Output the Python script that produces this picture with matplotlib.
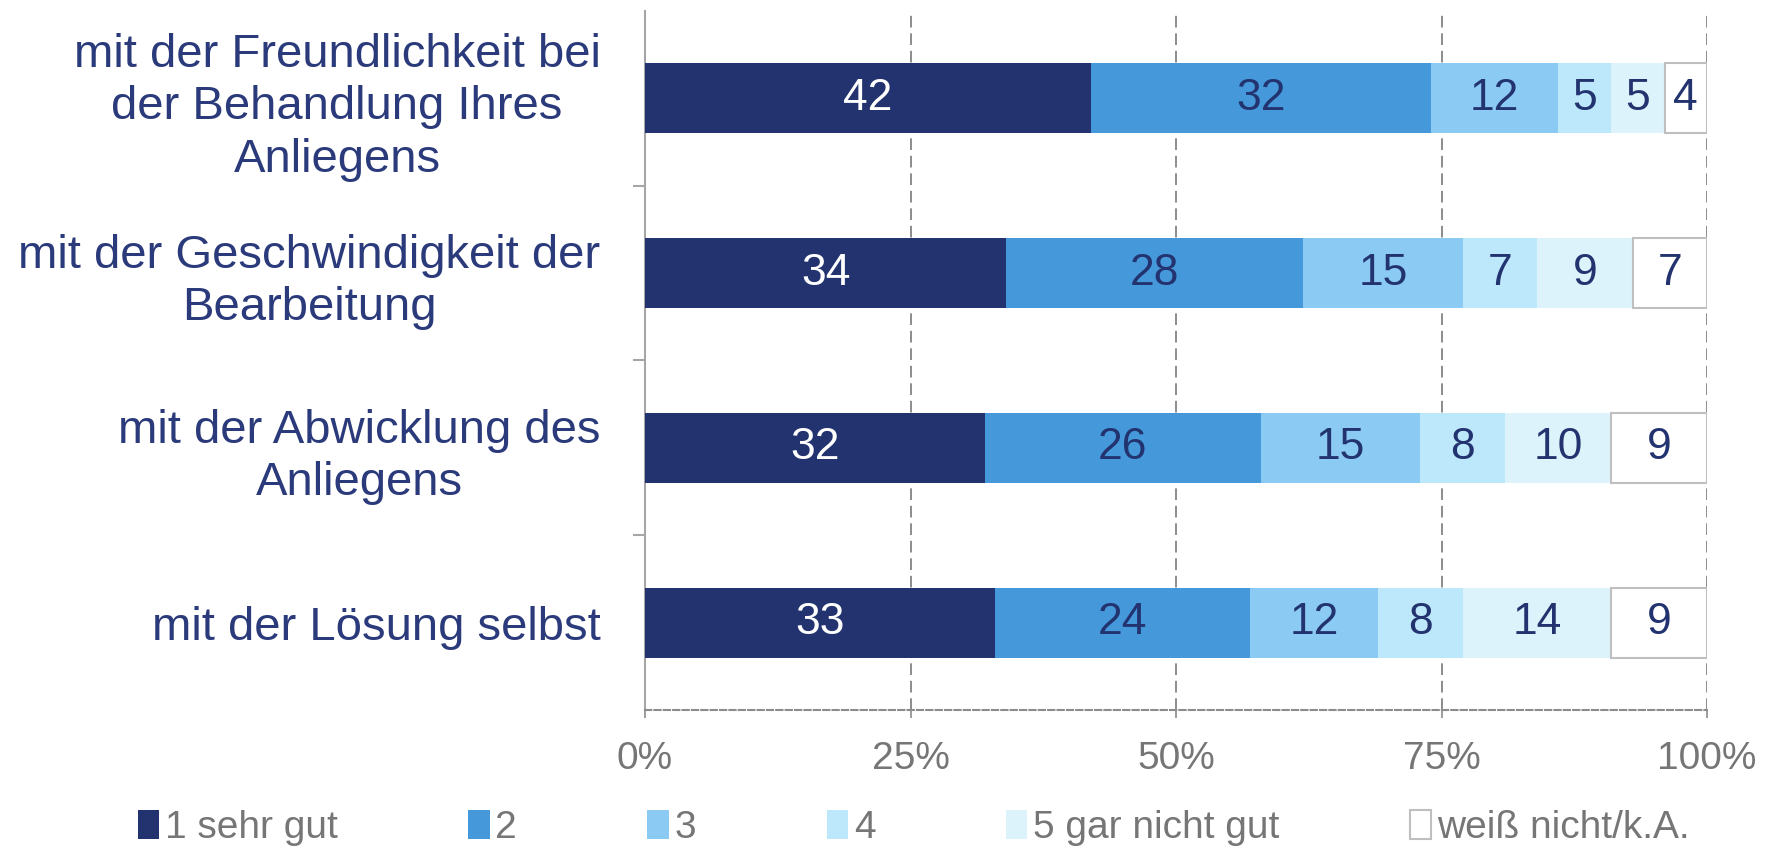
import numpy as np
import matplotlib
matplotlib.use("Agg")
import matplotlib.pyplot as plt
from matplotlib.ticker import FixedLocator

plt.rcParams['font.family'] = ['Liberation Sans', 'DejaVu Sans']

# categories top -> bottom
categories = [
    "mit der Freundlichkeit bei\nder Behandlung Ihres\nAnliegens",
    "mit der Geschwindigkeit der\nBearbeitung",
    "mit der Abwicklung des\nAnliegens",
    "mit der Lösung selbst",
]
series_names = ["1 sehr gut", "2", "3", "4", "5 gar nicht gut", "weiß nicht/k.A."]
s1 = [42, 34, 32, 33]
s2 = [32, 28, 26, 24]
s3 = [12, 15, 15, 12]
s4 = [5, 7, 8, 8]
s5 = [5, 9, 10, 14]
s6 = [4, 7, 9, 9]
x_ticks = [0, 25, 50, 75, 100]
x_ticklabels = ["0%", "25%", "50%", "75%", "100%"]

colors = ["#22336F", "#4599DA", "#8BCBF3", "#BDE7FB", "#DDF3FC", "#FFFFFF"]
edges = ["none", "none", "none", "none", "none", "#BFBFBF"]
label_colors = ["white", "#22336F", "#22336F", "#22336F", "#22336F", "#22336F"]
navy = "#2A3A7A"
grey = "#767676"

fig = plt.figure(figsize=(17.75, 8.46), dpi=100)
ax = fig.add_axes([645 / 1775, 1 - 710 / 846, (1707 - 645) / 1775, (710 - 11) / 846])

y = np.arange(len(categories))
left = np.zeros(len(categories))
for vals, name, c, ec, lc in zip([s1, s2, s3, s4, s5, s6], series_names, colors, edges, label_colors):
    vals = np.array(vals, dtype=float)
    ax.barh(y, vals, left=left, height=0.4, color=c, edgecolor=ec,
            linewidth=1.5, label=name, zorder=3)
    for yi, l, v in zip(y, left, vals):
        ax.text(l + v / 2, yi, f"{int(v)}", ha="center", va="center",
                fontsize=32, color=lc, zorder=4)
    left += vals

ax.set_xlim(0, 100)
ax.set_ylim(len(categories) - 0.5, -0.5)
ax.set_xticks(x_ticks)
ax.set_xticklabels(x_ticklabels, fontsize=28, color=grey)
ax.set_yticks(y)
ax.set_yticklabels(categories, fontsize=34, color=navy, multialignment="center",
                   linespacing=1.24)
ax.yaxis.set_minor_locator(FixedLocator([0.5, 1.5, 2.5]))
ax.tick_params(axis="y", which="major", length=0, pad=32)
ax.tick_params(axis="y", which="minor", length=9, width=1.5, color="#A6A6A6", direction="out")
ax.tick_params(axis="x", length=6, width=1.2, color="#8C8C8C", pad=16)

ax.grid(axis="x", color="#8C8C8C", linestyle=(0, (6, 3)), linewidth=1.4, zorder=0)
for s in ["top", "right"]:
    ax.spines[s].set_visible(False)
ax.spines["left"].set_color("#A6A6A6")
ax.spines["left"].set_linewidth(1.5)
ax.spines["bottom"].set_color("#8C8C8C")
ax.spines["bottom"].set_linestyle((0, (3, 1.5)))
ax.spines["bottom"].set_linewidth(1.5)

handles, labels = ax.get_legend_handles_labels()
leg = fig.legend(handles, labels, loc="center", bbox_to_anchor=(0.5147, 1 - 828 / 846),
                 ncol=6, frameon=False, fontsize=28, labelcolor=grey,
                 handlelength=0.55, handleheight=0.75, handletextpad=0.15,
                 columnspacing=3.35)

fig.savefig("out.png", dpi=100)
